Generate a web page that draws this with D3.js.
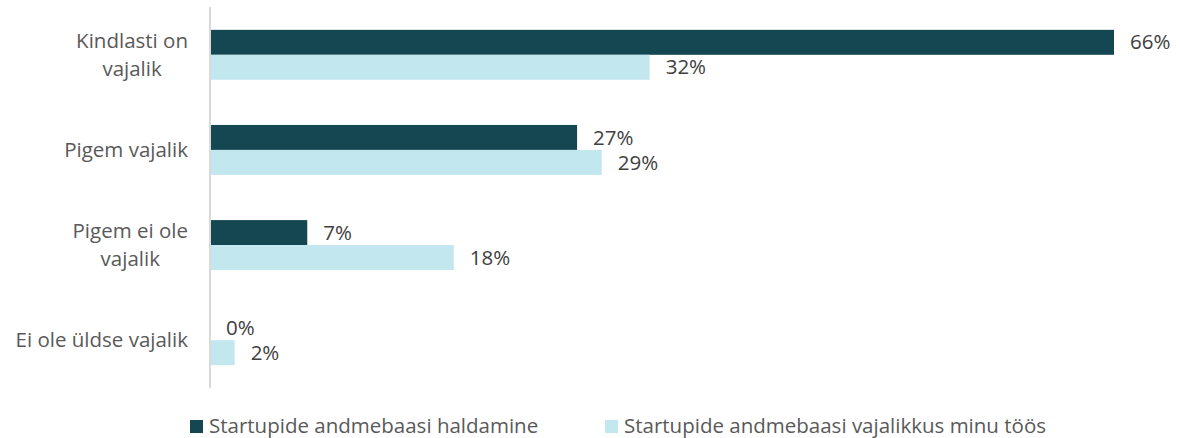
<!DOCTYPE html>
<html>
<head>
<meta charset="utf-8">
<script src="https://cdn.jsdelivr.net/npm/d3@7"></script>
<style>
  html, body { margin: 0; padding: 0; background: #fff; }
  svg { display: block; font-family: "Open Sans", sans-serif; }
</style>
</head>
<body>
<svg id="chart" width="1181" height="438"></svg>
<script>
"use strict";

// ── data ─────────────────────────────────────────────────────────────────────
const categories = [
  ["Kindlasti on", "vajalik"],
  ["Pigem vajalik"],
  ["Pigem ei ole", "vajalik"],
  ["Ei ole üldse vajalik"],
];
const seriesNames = [
  "Startupide andmebaasi haldamine",
  "Startupide andmebaasi vajalikkus minu töös",
];
const haldamine   = [66, 26.8, 7.1, 0];
const vajalikkus  = [32.1, 28.6, 17.8, 1.8];
const valueLabels = [
  ["66%", "27%", "7%", "0%"],
  ["32%", "29%", "18%", "2%"],
];
const COLORS = ["#154753", "#c2e7ef"];
const FONT = 20.5;

// ── layout ───────────────────────────────────────────────────────────────────
const svg = d3.select("#chart");
const axisX = 210;
const plotTop = 7, plotBottom = 388;

const x = d3.scaleLinear().domain([0, 66]).range([axisX, 1114]);
const y = d3.scaleBand().domain(d3.range(categories.length))
  .range([plotTop, plotBottom]).paddingInner(0.475).paddingOuter(0.24);
const sub = d3.scaleBand().domain([0, 1]).range([0, y.bandwidth()]);

const series = [haldamine, vajalikkus];

// bars + value labels
series.forEach((vals, s) => {
  svg.append("g").selectAll("rect").data(vals).enter().append("rect")
    .attr("x", x(0))
    .attr("y", (d, i) => y(i) + sub(s))
    .attr("width", d => x(d) - x(0))
    .attr("height", sub.bandwidth())
    .attr("fill", COLORS[s]);

  svg.append("g").selectAll("text").data(vals).enter().append("text")
    .attr("x", d => x(d) + 16)
    .attr("y", (d, i) => y(i) + sub(s) + sub.bandwidth() / 2)
    .attr("dy", "0.35em")
    .attr("font-size", FONT)
    .attr("fill", "#404040")
    .text((d, i) => valueLabels[s][i]);
});

// axis line
svg.append("line")
  .attr("x1", axisX).attr("x2", axisX)
  .attr("y1", plotTop).attr("y2", plotBottom)
  .attr("stroke", "#d9d9d9").attr("stroke-width", 2);

// category labels: block right-aligned, lines centered within block
const labelRight = 188;
const lineH = 28;
categories.forEach((lines, i) => {
  const g = svg.append("g");
  const cy = y(i) + y.bandwidth() / 2;
  const texts = lines.map((ln, k) => g.append("text")
    .attr("font-size", FONT)
    .attr("fill", "#595959")
    .attr("text-anchor", "middle")
    .attr("y", cy + (k - (lines.length - 1) / 2) * lineH)
    .attr("dy", "0.35em")
    .text(ln));
  const maxW = d3.max(texts, t => t.node().getComputedTextLength());
  texts.forEach(t => t.attr("x", labelRight - maxW / 2));
});

// legend
const legendX = [190, 605];
seriesNames.forEach((name, s) => {
  svg.append("rect")
    .attr("x", legendX[s]).attr("y", 420)
    .attr("width", 13).attr("height", 13)
    .attr("fill", COLORS[s]);
  svg.append("text")
    .attr("x", legendX[s] + 19).attr("y", 426)
    .attr("dy", "0.35em")
    .attr("font-size", FONT)
    .attr("fill", "#595959")
    .text(name);
});
</script>
</body>
</html>
